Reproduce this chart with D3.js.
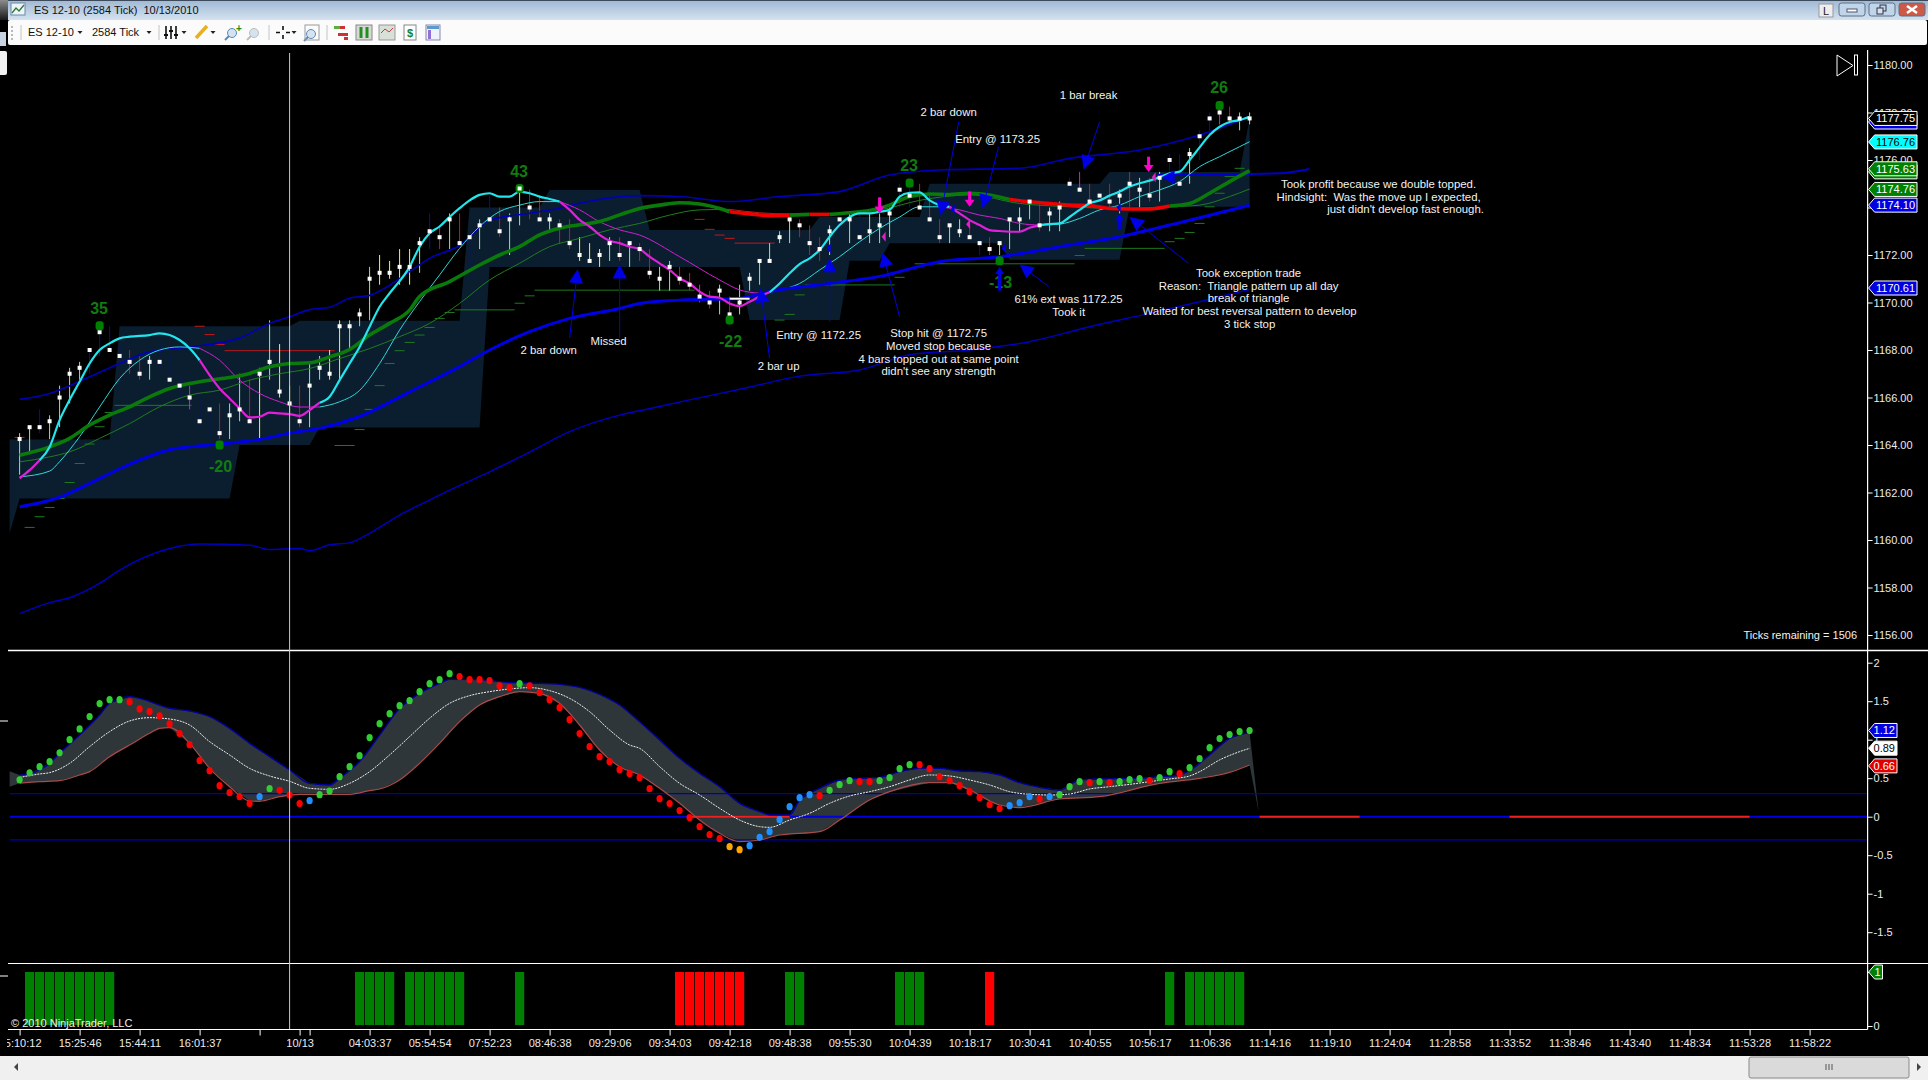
<!DOCTYPE html>
<html>
<head>
<meta charset="utf-8">
<title>ES 12-10 (2584 Tick)</title>
<script src="https://cdn.jsdelivr.net/npm/d3@7"></script>
<style>
html, body { margin: 0; padding: 0; background: #000; overflow: hidden; }
svg { display: block; font-family: "Liberation Sans", Arial, sans-serif; }
text { white-space: pre; }
</style>
</head>
<body>
<div id="chart"></div>
<script>
// bars, one entry per bar
var closes = [1164.25,1164.75,1164.75,1165,1166,1167,1167.25,1168,1168.75,1168,
  1167.75,1167.5,1167,1167.5,1167.5,1166.75,1166.5,1166,1165,1165.5,
  1164.5,1165.25,1165.5,1165,1167,1167.5,1166.25,1165.75,1165,1166.5,
  1167.25,1167,1169,1169,1169.5,1171,1171.25,1171.25,1171.5,1171.5,
  1172.5,1173,1172.75,1173.5,1172.5,1172.75,1173.25,1173.5,1173,1173.5,
  1174.75,1174,1173.5,1173.5,1173.25,1172.5,1172,1171.75,1172,1172.5,
  1172,1172.5,1172.25,1171.25,1171,1171.5,1171,1170.75,1170.25,1170,
  1170.5,1169.5,1170,1171,1171.75,1171.75,1172.75,1173.5,1173.25,1172.5,
  1172.25,1173,1173.5,1173.5,1172.75,1173,1173.25,1173.75,1174.75,1174.5,
  1174,1173.5,1172.75,1173.25,1173,1172.75,1172.5,1172.25,1172.5,1173.5,
  1173.5,1174.25,1173.25,1173.75,1174,1175,1174.75,1174.25,1174.5,1174.25,
  1174.5,1175,1174.75,1174.5,1175.25,1176,1175,1176.25,1177,1177.75,
  1178,1177.75,1177.75,1177.75];
var highs = [1164.5,1164.75,1165.5,1165.25,1166.5,1167.25,1167.5,1168,1169,1169,
  1168.25,1168,1167.75,1167.75,1168.25,1167.75,1167,1166.5,1166,1165.5,
  1165.75,1165.75,1167,1166.75,1167.25,1169.25,1168.25,1166.5,1166.5,1167.5,
  1167.75,1168,1169.25,1169.25,1169.75,1171.5,1172,1171.75,1172.25,1172.25,
  1172.75,1173.75,1173.25,1173.75,1173.75,1172.75,1173.5,1174.5,1174,1173.75,
  1174.75,1174.75,1174.5,1173.75,1173.5,1173.5,1172.75,1172.5,1172.25,1172.75,
  1172.75,1172.5,1172.5,1172.25,1171.5,1171.75,1171.5,1171.25,1170.75,1170.5,
  1170.75,1170.25,1170.75,1171.25,1171.75,1172.5,1173,1173.5,1173.5,1173.25,
  1172.75,1173.25,1173.5,1173.75,1173.75,1173.75,1173.75,1174,1175,1175,
  1175,1174.5,1173.5,1173.25,1173.5,1173.25,1172.75,1172.75,1172.5,1173.5,
  1174,1174.25,1174.25,1174,1174.25,1175.25,1175.5,1175,1174.5,1175,
  1174.75,1175.5,1175.25,1175.25,1175.5,1176.25,1176.25,1176.5,1177.25,1178,
  1178.25,1178.25,1178,1178];
var lows = [1162.75,1163.75,1164.5,1164.25,1164.75,1165.75,1166.75,1167,1167.75,1168,
  1167.25,1167,1166.75,1166.75,1167.25,1166.75,1165.75,1165.5,1164.75,1164.25,
  1164.25,1164.25,1165,1165,1164.25,1166.75,1166,1165.25,1164.75,1164.75,
  1166.75,1166.75,1166.75,1168,1169,1169.25,1170.75,1171,1170.75,1170.75,
  1171.25,1172.25,1172.25,1172.25,1172.5,1171.5,1172.25,1173.5,1172.75,1172,
  1173.25,1173.5,1173.5,1173,1172.5,1172.25,1171.75,1171.75,1171.5,1171.75,
  1171.75,1171.5,1171.75,1171,1170.5,1170.5,1170.75,1170.5,1170,1169.75,
  1169.5,1169.25,1169.5,1170.5,1170.75,1171.75,1172.5,1172.5,1172.75,1172,
  1171.75,1172,1172.75,1172.5,1172.5,1172.5,1172.5,1172.75,1174,1174,
  1174,1173.5,1172.5,1172.5,1172.75,1172.75,1172,1172,1172,1172.25,
  1173,1173.5,1173,1173,1173,1174,1174.75,1174,1173.5,1174,
  1173.75,1174,1174,1174.25,1174.25,1175.25,1175,1175,1176,1177,
  1177.5,1177.5,1177.25,1177.5];
var wickKinds = ("ggbggggbbb" + "brrgbbbmbb" + "rggrygyyrg" + "gyygggyyyy" + "gbrgrbgbrg" +
  "grrgrryyyg" + "rgrrggrrmr" + "grggggggrr" + "rgbgbgggbb" + "rrrggrbrgg" +
  "ggrggbmrbr" + "grgrgbbgbb" + "mrgg").split("");

// price indicators, [bar, price]
var lowerBandThick = [[0,1161.4],[4,1161.8],[7,1162.38],[10,1163],[15,1163.8],[20,1164.04],[24,1164.23],[27,1164.5],[30,1164.7],[34,1165.2],[39,1166.24],[44,1167.3],[47,1168],[51,1168.77],[55,1169.33],[60,1169.75],[62,1169.96],[66,1170.1],[72,1170.17],[75,1170.46],[81,1170.8],[86,1171.1],[92,1171.72],[98,1171.93],[104,1172.35],[110,1172.77],[115,1173.26],[123,1174.1]];
var upperEnvelope = [[0,1165.92],[3,1166.17],[7,1166.87],[10,1167.43],[13,1167.92],[17,1168.13],[22,1168.5],[25,1169.12],[27,1169.4],[29,1169.7],[31,1169.8],[33,1170.18],[35,1170.3],[39,1171.3],[41,1171.86],[44,1172.4],[47,1173.46],[51,1173.76],[54,1173.97],[56,1174.18],[62,1174.5],[66,1174.46],[71,1174.25],[76,1174.46],[82,1174.67],[87,1175.37],[92,1175.58],[100,1175.65],[105,1176.07],[112,1176.42],[118,1177.05],[123,1177.82]];
var lowerEnvelope = [[0,1156.9],[3,1157.36],[5,1157.57],[8,1158.17],[10,1158.73],[15,1159.64],[18,1159.83],[23,1159.78],[25,1159.6],[28,1159.64],[29,1159.55],[31,1159.8],[33,1159.88],[35,1160.28],[38,1161.05],[41,1161.68],[43,1162.1],[47,1162.87],[51,1163.7],[55,1164.56],[60,1165.26],[62,1165.44],[67,1165.9],[72.6,1166.4],[78,1166.9],[84,1167.16],[89,1167.8],[95,1168],[101,1168.35],[107,1168.98],[113,1169.54],[123,1170.55]];
var stubLine = [[113.8,1175.37],[126,1175.44],[129,1175.62]];
var fastLine = [[0,1162.6],[1,1162.94],[2,1163.36],[3,1163.92],[4,1165.05],[5,1165.9],[6,1166.66],[7,1167.43],[8,1168],[9,1168.28],[10,1168.49],[11,1168.56],[13,1168.63],[14,1168.7],[16,1168.42],[17,1168.07],[18,1167.57],[19,1166.94],[20,1166.38],[21,1165.96],[22,1165.54],[23,1165.16],[24,1165.19],[25,1165.36],[26,1165.33],[27,1165.3],[28,1165.23],[29,1165.47],[30,1165.78],[31,1166.03],[32,1166.73],[33,1167.43],[34,1168.13],[35,1168.98],[36,1169.82],[37,1170.39],[39,1171.5],[40,1172.35],[41,1172.92],[42,1173.2],[43,1173.6],[44,1173.97],[45,1174.3],[46,1174.53],[47,1174.6],[48,1174.46],[49,1174.46],[50,1174.67],[51,1174.6],[52,1174.46],[53,1174.36],[54,1174.25],[55,1173.9],[56,1173.48],[57,1173.2],[58,1172.85],[59,1172.6],[60,1172.5],[61,1172.35],[62,1172.25],[63,1171.93],[64,1171.65],[65,1171.37],[66,1171.02],[67,1170.8],[68,1170.46],[69,1170.25],[70,1170.2],[71,1169.96],[72,1169.85],[73,1170.03],[74,1170.25],[75,1170.43],[76,1170.8],[77,1171.23],[78,1171.62],[79,1171.86],[80,1172.21],[81,1172.77],[82,1173.26],[83,1173.6],[84,1173.75],[85,1173.75],[86,1173.82],[87,1173.9],[88,1174.46],[89,1174.62],[90,1174.64],[91,1174.3],[92,1174.1],[93,1174.03],[94,1173.75],[95,1173.47],[96,1173.26],[97,1173.05],[98,1173.01],[99,1172.98],[100,1172.98],[101,1173.15],[102,1173.26],[103,1173.3],[104,1173.33],[105,1173.6],[106,1173.9],[107,1174.18],[108,1174.3],[109,1174.5],[110,1174.67],[111,1174.88],[112,1175.02],[113,1175.13],[114,1175.27],[115,1175.44],[116,1175.51],[117,1176],[118,1176.53],[119,1177.05],[120,1177.4],[121,1177.6],[122,1177.68],[123,1177.82]];
var slowLine = [[0,1162.66],[3,1162.9],[4,1163.3],[6,1164.35],[8,1165.6],[10,1166.8],[12,1167.57],[14,1168],[16,1168.13],[18,1168.07],[20,1167.57],[22,1166.73],[24,1166.17],[26,1165.82],[28,1165.6],[30,1165.6],[32,1165.82],[34,1166.3],[36,1167.43],[38,1168.84],[40,1170.04],[42,1171.16],[44,1172.28],[46,1173.2],[48,1173.83],[50,1174.1],[52,1174.25],[54,1174.25],[56,1173.9],[58,1173.4],[60,1173.06],[62,1172.84],[66,1171.93],[70,1170.95],[72,1170.53],[74,1170.39],[76,1170.53],[78,1170.8],[80,1171.37],[82,1171.93],[84,1172.56],[86,1173.12],[88,1173.6],[90,1174.03],[92,1174.03],[94,1173.9],[96,1173.68],[98,1173.54],[100,1173.33],[102,1173.26],[104,1173.3],[106,1173.54],[108,1173.9],[110,1174.1],[112,1174.46],[114,1174.74],[116,1175.09],[118,1175.72],[120,1176.14],[122,1176.56],[123,1176.77]];
var trendThick = [[0,1163.57],[3,1163.92],[5,1164.28],[7,1164.84],[9,1165.26],[11,1165.61],[13,1166.03],[15,1166.38],[17,1166.59],[19,1166.73],[21,1166.84],[23,1167.01],[25,1167.29],[27,1167.43],[29,1167.46],[31,1167.71],[33,1168.02],[35,1168.63],[37,1169.12],[39,1169.68],[40,1170.25],[43,1170.88],[46,1171.58],[48,1172],[50,1172.35],[52,1172.85],[54,1173.13],[56,1173.27],[58,1173.41],[60,1173.69],[62,1173.96],[64,1174.1],[66,1174.2],[68,1174.15],[70,1173.96],[71,1173.82],[73,1173.73],[75,1173.66],[77,1173.68],[79,1173.71],[81,1173.71],[83,1173.78],[85,1173.87],[87,1174.1],[89,1174.46],[91,1174.57],[93,1174.55],[95,1174.6],[97,1174.53],[99,1174.34],[101,1174.24],[103,1174.17],[105,1174.1],[107,1174.08],[109,1173.96],[111,1173.94],[113,1173.94],[115,1174.06],[117,1174.17],[119,1174.6],[121,1175.09],[123,1175.55]];
var trendThin = [[0,1163.29],[3,1163.5],[5,1163.71],[8,1164.28],[11,1164.9],[14,1165.61],[17,1166.1],[20,1166.31],[23,1166.73],[26,1167],[29,1167.22],[32,1167.64],[35,1168.06],[38,1168.56],[41,1169.12],[44,1169.96],[47,1170.95],[50,1171.65],[53,1172.35],[56,1172.7],[59,1173.06],[62,1173.33],[65,1173.68],[68,1173.9],[71,1173.92],[74,1173.78],[77,1173.73],[80,1173.73],[86,1173.9],[90,1174.3],[95,1174.53],[100,1174.17],[105,1174.03],[110,1173.96],[115,1174.03],[118,1174.1],[121,1174.46],[123,1174.78]];

// zone shading, [bar, price]
var zoneTop = [[-1,1164.23],[9,1164.23],[10,1169],[27,1169],[28,1169.23],[44,1169.23],[45,1174],[52,1174],[53,1174.74],[62,1174.74],[63,1173.05],[79,1173.05],[80,1173.6],[90,1173.6],[91,1175],[108,1175],[109,1175.5],[122,1175.5],[123,1177.75]];
var zoneBottom = [[-1,1160.28],[0,1161.75],[21,1161.75],[22,1164],[29,1164],[30,1164.74],[46,1164.74],[47,1171.5],[72,1171.5],[73,1169.26],[82,1169.26],[83,1171.76],[86,1171.76],[87,1172.5],[98,1172.5],[99,1171.8],[110,1171.8],[111,1174.03],[123,1174.03]];

// short level dashes [from bar, to bar, price]
var greenDashes = [[0.5,1.5,1160.53],[1.5,2.5,1160.98],[2.5,3.5,1161.37],[3.5,4.5,1161.75],[4.5,5.5,1162.42],[5.5,6.5,1163.22],[6.5,7.5,1164.04],[7.5,8.5,1164.77],[8.5,9.5,1165.37],[9.5,17.2,1165.67],[31.5,33.5,1163.98],[33.5,34.5,1164.65],[34.5,35.5,1165.5],[35.5,36.5,1166.5],[36.5,37.5,1167.43],[37.5,38.5,1167.97],[38.5,39.5,1168.32],[39.5,40.5,1168.63],[40.5,41.5,1168.95],[41.5,42.5,1169.33],[42.5,43.5,1169.58],[43.5,49.5,1169.69],[49.5,50.5,1169.97],[50.5,51.5,1170.28],[51.5,67.5,1170.52],[75.5,76.5,1169.26],[76.5,77.5,1169.5],[77.5,78.5,1170.32],[78.5,87.5,1170.74],[87.5,88.5,1171.06],[89.5,105.5,1171.63],[105.5,106.5,1171.98],[106.5,114.5,1172.28],[114.5,115.5,1172.56],[115.5,116.5,1172.7],[116.5,117.5,1172.95],[117.5,118.5,1173.33],[118.5,119.5,1174.03],[119.5,120.5,1174.6],[120.5,121.5,1175.3],[121.5,122.5,1175.65]];
var redDashes = [[-0.5,0.5,1164.32],[17.5,18.5,1169],[18.5,19.5,1168.65],[19.5,20.5,1168.23],[20.5,31.5,1167.97],[67.5,68.5,1173.5],[68.5,69.5,1173.08],[69.5,70.5,1172.84],[70.5,71.5,1172.7],[71.5,75.5,1172.5]];
var whiteDashes = [[71,73,1170.16]];

// swing points [bar, price, label]
var swingHighs = [[8,1169.02,"35"],[50,1174.8,"43"],[89,1175.03,"23"],[120,1178.3,"26"]];
var swingLows = [[20,1164,"-20"],[71,1169.26,"-22"],[98,1171.76,"-13"]];

// drawn arrows [tip bar, tip price, tail bar, tail price]
var longArrows = [[55.8,1171.4,55,1168.5],[60,1171.6,60,1168.5],[74.1,1170.6,75,1167.65],[81,1171.86,81,1169.2],[86.3,1172.1,88,1169.4],[92.1,1173.68,93.9,1177.6],[96.3,1173.96,97.9,1176.56],[106.4,1175.6,108,1177.6],[100,1171.6,102.9,1170.67],[111,1173.6,116.9,1171.65]];
var stemBlue = [[98,1171.5,98,1170.5],[110,1173.75,110,1173.1]];
var stemMagenta = [[86,1173.75,86,1174.43],[95,1174.03,95,1174.67],[112.9,1175.5,112.9,1176.14]];
var leftMagenta = [[86.2,1172.77],[94.65,1173.3],[113.2,1175.27]];
var leftBlue = [[80.7,1172.28],[98.2,1172.28],[109.7,1174],[93.1,1173.94]];
var leftBlueBig = [[114.2,1175.27]];

// oscillator panel
var dotValues = [.48,.57,.65,.715,.83,1,1.14,1.3,1.47,1.52,
  1.52,1.49,1.4,1.365,1.31,1.205,1.08,.936,.728,.598,
  .403,.312,.26,.17,.26,.364,.343,.282,.17,.208,
  .286,.334,.52,.65,.793,1.027,1.208,1.338,1.442,1.507,
  1.624,1.728,1.78,1.858,1.82,1.78,1.78,1.767,1.7,1.676,
  1.728,1.7,1.611,1.52,1.416,1.26,1.08,.91,.78,.715,
  .611,.559,.507,.364,.234,.17,.079,-.012,-.129,-.233,
  -.285,-.389,-.428,-.376,-.268,-.194,-.038,.13,.247,.286,
  .273,.343,.416,.468,.455,.455,.468,.507,.624,.676,
  .676,.624,.52,.468,.403,.325,.247,.156,.105,.143,
  .182,.26,.23,.26,.286,.39,.455,.442,.455,.442,
  .455,.481,.494,.468,.507,.585,.559,.637,.754,.897,
  1.014,1.066,1.105,1.118];
var dotKinds = ("gggggggggg" + "grrrrrrrrr" + "rrrrbgrrrb" + "gggggggggg" + "ggggrrrrrr" +
  "grrrrrrrrr" + "rrrrrrrrrr" + "roobbbbbbb" + "rgggrrgggg" + "rrrrrrrrrb" +
  "bbrbgggrgr" + "gggrggrggg" + "gggg").split("");
var bandUpper = [[0,.54],[1,.56],[3,.693],[4,.823],[6,1.06],[8,1.32],[9,1.473],[11,1.559],[12,1.537],[15,1.408],[17,1.373],[19,1.3],[21,1.148],[23,.953],[25,.78],[27,.607],[29,.433],[31,.412],[32,.498],[34,.715],[36,1.06],[38,1.408],[40,1.602],[42,1.732],[43,1.784],[46,1.78],[49,1.741],[52,1.732],[54,1.719],[56,1.68],[58,1.589],[60,1.451],[62,1.234],[64,.996],[66,.758],[68,.563],[70,.39],[72,.174],[74,.066],[75,.022],[77,.022],[78,.217],[80,.369],[82,.477],[84,.498],[86,.511],[88,.585],[90,.628],[92,.628],[94,.594],[96,.585],[98,.542],[100,.442],[102,.381],[104,.347],[106,.477],[108,.49],[112,.498],[114,.52],[116,.542],[117,.598],[119,.802],[121,1.018],[123,1.092]];
var bandMiddle = [[0,.51],[2,.555],[3,.572],[5,.693],[7,.91],[9,1.105],[11,1.243],[13,1.286],[15,1.269],[17,1.191],[19,.975],[21,.802],[23,.628],[25,.529],[27,.46],[29,.369],[31,.356],[33,.433],[35,.585],[37,.802],[39,1.04],[41,1.278],[43,1.472],[45,1.572],[47,1.624],[49,1.659],[51,1.676],[53,1.637],[55,1.537],[57,1.364],[59,1.126],[61,.931],[62,.888],[64,.65],[66,.433],[68,.282],[70,.109],[72,-.043],[74,-.129],[75,-.138],[77,-.043],[79,.044],[81,.174],[83,.269],[85,.325],[87,.39],[89,.477],[91,.542],[93,.529],[95,.477],[97,.412],[99,.325],[101,.291],[103,.282],[105,.295],[107,.36],[109,.39],[111,.42],[113,.455],[115,.49],[117,.529],[118,.585],[120,.737],[122,.845],[123,.888]];
var bandLower = [[0,.434],[2,.455],[4,.468],[6,.542],[7,.585],[9,.78],[11,.931],[13,1.083],[14,1.148],[15,1.156],[17,.953],[19,.628],[21,.39],[23,.204],[24,.2],[26,.26],[28,.291],[31,.291],[33,.291],[35,.338],[36,.36],[38,.477],[40,.693],[42,.953],[44,1.234],[46,1.451],[48,1.559],[50,1.624],[52,1.602],[54,1.473],[56,1.191],[58,.866],[60,.65],[62,.542],[64,.369],[66,.174],[68,-.043],[70,-.216],[72,-.324],[74,-.303],[76,-.238],[80,-.194],[82,-.043],[85,.217],[87,.325],[91,.442],[93,.442],[95,.347],[98,.152],[100,.118],[104,.23],[108,.26],[114,.433],[118,.498],[121,.576],[123,.672]];
var bandFillStart = [-1,.59,.39];
var bandFillEnd = [123.9,.065];
var oscLevels = [.3,-.3];
var zeroRedRuns = [[67,77],[124,134],[149,173]];

// signal panel, bar runs
var greenRuns = [[1,9],[34,37],[39,44],[50,50],[77,78],[88,90],[115,115],[117,122]];
var redRuns = [[66,72],[97,97]];

// axes
var priceTicks = d3.range(1156, 1181, 2);
var oscTicks = [-1.5,-1,-0.5,0,0.5,1,1.5,2];
var timeTickBars = [0,6,12,18,24,28,29,35,41,47,53,59,65,71,77,83,89,95,101,107,113,119,125,131,137,143,149,155,161,167,173,179];
var timeTickLabels = ["15:10:12","15:25:46","15:44:11","16:01:37","","10/13","","04:03:37","05:54:54","07:52:23","08:46:38","09:29:06","09:34:03","09:42:18","09:48:38","09:55:30","10:04:39","10:18:17","10:30:41","10:40:55","10:56:17","11:06:36","11:14:16","11:19:10","11:24:04","11:28:58","11:33:52","11:38:46","11:43:40","11:48:34","11:53:28","11:58:22"];

// value tags at the axis [value, text, fill, text colour]
var priceTagsBack = [[1177.6,"","#0000e0","#fff"],[1175.5,"","#008000","#fff"]];
var priceTags = [[1177.75,"1177.75","#000","#fff"],[1176.76,"1176.76","#00ffff","#000"],[1175.63,"1175.63","#008000","#fff"],[1174.76,"1174.76","#008000","#fff"],[1174.10,"1174.10","#0000e0","#fff"],[1170.61,"1170.61","#0000e0","#fff"]];
var oscTags = [[1.12,"1.12","#0000e0","#fff"],[0.89,"0.89","#fff","#000"],[0.66,"0.66","#e00000","#fff"]];

// notes [text, bar, price]
var notes = [
  ["2 bar down",52.9,1168],["Missed",58.9,1168.36],
  ["Entry @ 1172.25",79.9,1168.62],["2 bar up",75.9,1167.32],
  ["2 bar down",92.9,1178.03],["Entry @ 1173.25",97.8,1176.88],["1 bar break",106.9,1178.73],
  ["Stop hit @ 1172.75",91.9,1168.72],["Moved stop because",91.9,1168.17],["4 bars topped out at same point",91.9,1167.62],["didn't see any strength",91.9,1167.12],
  ["61% ext was 1172.25",104.9,1170.15],["Took it",104.9,1169.6],
  ["Took exception trade",122.9,1171.25],["Reason:  Triangle pattern up all day",122.9,1170.7],["break of triangle",122.9,1170.2],["Waited for best reversal pattern to develop",123,1169.65],["3 tick stop",123,1169.1],
  ["Took profit because we double topped.",135.9,1175],["Hindsight:  Was the move up I expected,",135.9,1174.45],["just didn't develop fast enough.",138.6,1173.95]
];
var ticksRemaining = "Ticks remaining = 1506";
var copyrightNote = "\u00a9 2010 NinjaTrader, LLC";
var titleText = "ES 12-10 (2584 Tick)  10/13/2010";
var instrumentText = "ES 12-10";
var periodText = "2584 Tick";
var cursorBar = 27;

var W = 1928, H = 1080;
var axisX = 1867.6;
var wickColors = {g: "#90ee90", y: "#ffff00", r: "#e01010", b: "#0000f0", m: "#ff00ff"};
var dotColors = {g: "#32cd32", r: "#ff0000", b: "#1e90ff", o: "#ffa500"};

var svg = d3.select("#chart").append("svg").attr("width", W).attr("height", H);

var x = d3.scaleLinear().domain([0, 179]).range([19.6, 1809.6]);
var yPrice = d3.scaleLinear().domain([1156, 1180]).range([635, 65]);
var yOsc = d3.scaleLinear().domain([-1.5, 2]).range([932.2, 662.7]);
var ySig = d3.scaleLinear().domain([0, 1]).range([1026, 972]);

var priceLine = function (curve) {
    return d3.line().x(d => x(d[0])).y(d => yPrice(d[1])).curve(curve || d3.curveMonotoneX);
};
var oscLine = d3.line().x(d => x(d[0])).y(d => yOsc(d[1])).curve(d3.curveMonotoneX);

svg.append("defs").append("clipPath").attr("id", "plotClip")
    .append("rect").attr("x", 8).attr("y", 45).attr("width", W - 8).attr("height", H - 45);

var plot = svg.append("g").attr("clip-path", "url(#plotClip)");

// zones
var zoneRing = zoneTop.concat(zoneBottom.slice().reverse());
plot.append("path")
    .attr("d", priceLine(d3.curveLinear)(zoneRing) + "Z")
    .attr("fill", "#0a1e30");

// level dashes
function drawDashes(list, color, width) {
    plot.selectAll(null).data(list).enter().append("line")
        .attr("x1", d => x(d[0])).attr("x2", d => x(d[1]))
        .attr("y1", d => yPrice(d[2])).attr("y2", d => yPrice(d[2]))
        .attr("stroke", color).attr("stroke-width", width);
}
drawDashes(greenDashes, "#1d7a1d", 1);
drawDashes(redDashes, "#c01818", 1);

// wicks
plot.selectAll(null).data(closes).enter().append("line")
    .attr("x1", (d, i) => x(i)).attr("x2", (d, i) => x(i))
    .attr("y1", (d, i) => yPrice(highs[i])).attr("y2", (d, i) => yPrice(lows[i]))
    .attr("stroke", (d, i) => wickColors[wickKinds[i]]).attr("stroke-width", 1);

// colour runs of one curve
function drawRuns(knots, runs, width) {
    runs.forEach(function (r) {
        plot.append("path")
            .attr("d", priceLine()(knots.filter(k => k[0] >= r[0] && k[0] <= r[1])))
            .attr("fill", "none").attr("stroke", r[2]).attr("stroke-width", width);
    });
}

function drawCurve(knots, color, width) {
    plot.append("path").attr("d", priceLine()(knots))
        .attr("fill", "none").attr("stroke", color).attr("stroke-width", width);
}

drawCurve(lowerEnvelope, "#0000c0", 1.4);
drawCurve(upperEnvelope, "#0000b8", 1.6);
drawCurve(stubLine, "#0000c8", 2);
drawRuns(trendThin, [[0,71,"#1f7d1f"],[71,80,"#b02020"],[80,123,"#1f7d1f"]], 1);
drawRuns(slowLine, [[0,18,"#30d8d8"],[18,30,"#d020d0"],[30,54,"#30d8d8"],[54,74,"#d020d0"],[74,92,"#30d8d8"],[92,102,"#d020d0"],[102,123,"#30d8d8"]], 1);
drawCurve(lowerBandThick, "#0000e6", 3);
drawRuns(trendThick, [[0,71,"#0a7a0a"],[71,77,"#f00000"],[77,79,"#0a7a0a"],[79,81,"#f00000"],[81,99,"#0a7a0a"],[99,115,"#f00000"],[115,123,"#0a7a0a"]], 3.6);
drawRuns(fastLine, [[0,2,"#e020d8"],[2,18,"#22e6ec"],[18,30,"#e020d8"],[30,54,"#22e6ec"],[54,75,"#e020d8"],[75,93,"#22e6ec"],[93,102,"#e020d8"],[102,123,"#22e6ec"]], 2.2);
drawDashes(whiteDashes, "#ffffff", 2);

// closes
plot.selectAll(null).data(closes).enter().append("rect")
    .attr("x", (d, i) => x(i) - 2).attr("y", d => yPrice(d) - 2)
    .attr("width", 4).attr("height", 4).attr("fill", "#fff");

// swing markers
var swings = swingHighs.concat(swingLows);
plot.selectAll(null).data(swings).enter().append("rect")
    .attr("x", d => x(d[0]) - 4).attr("y", d => yPrice(d[1]) - 4.5)
    .attr("width", 8).attr("height", 9).attr("rx", 3)
    .attr("fill", "#008000");
plot.selectAll(null).data(swingHighs.filter(d => d[2] == "43")).enter().append("rect")
    .attr("x", d => x(d[0]) - 2).attr("y", d => yPrice(d[1]) - 2)
    .attr("width", 4).attr("height", 4).attr("fill", "#fff");
plot.selectAll(null).data(swingHighs).enter().append("text")
    .attr("x", d => x(d[0]) - 0.5).attr("y", d => yPrice(d[1]) - 12)
    .attr("text-anchor", "middle").attr("font-size", 16).attr("font-weight", "bold")
    .attr("fill", "#107c10").text(d => d[2]);
plot.selectAll(null).data(swingLows).enter().append("text")
    .attr("x", d => x(d[0]) + 1).attr("y", d => yPrice(d[1]) + 27)
    .attr("text-anchor", "middle").attr("font-size", 16).attr("font-weight", "bold")
    .attr("fill", "#107c10").text(d => d[2]);

// arrows
function drawArrow(d, color, headLen, headHalf, stemWidth) {
    var tx = x(d[0]), ty = yPrice(d[1]), bx = x(d[2]), by = yPrice(d[3]);
    var len = Math.sqrt((bx - tx) * (bx - tx) + (by - ty) * (by - ty));
    var ux = (bx - tx) / len, uy = (by - ty) / len;
    plot.append("line")
        .attr("x1", tx + ux * headLen * 0.8).attr("y1", ty + uy * headLen * 0.8)
        .attr("x2", bx).attr("y2", by)
        .attr("stroke", color).attr("stroke-width", stemWidth);
    var cx = tx + ux * headLen, cy = ty + uy * headLen;
    plot.append("polygon")
        .attr("points", [[tx, ty], [cx - uy * headHalf, cy + ux * headHalf], [cx + uy * headHalf, cy - ux * headHalf]].join(" "))
        .attr("fill", color);
}
longArrows.forEach(d => drawArrow(d, "#0000e6", 14, 7, 1));
stemBlue.forEach(d => drawArrow(d, "#0000e6", 7, 4.5, 3));
stemMagenta.forEach(d => drawArrow(d, "#ff00d0", 7, 5, 3));

function drawLeftTriangles(list, color, size, half) {
    plot.selectAll(null).data(list).enter().append("polygon")
        .attr("points", d => {
            var px = x(d[0]), py = yPrice(d[1]);
            return [[px, py], [px + size, py - half], [px + size, py + half]].join(" ");
        })
        .attr("fill", color);
}
drawLeftTriangles(leftMagenta, "#e020c0", 4, 5);
drawLeftTriangles(leftBlue, "#0000e6", 4, 5);
drawLeftTriangles(leftBlueBig, "#0000e6", 13, 7);

// notes
plot.selectAll(null).data(notes).enter().append("text")
    .attr("x", d => x(d[1])).attr("y", d => yPrice(d[2]) + 4)
    .attr("text-anchor", "middle").attr("font-size", 11.4).attr("fill", "#f2f2f2")
    .text(d => d[0]);
svg.append("text").attr("x", 1857).attr("y", 639).attr("text-anchor", "end")
    .attr("font-size", 11).attr("fill", "#f2f2f2").text(ticksRemaining);

// jump to end glyph
svg.append("polygon").attr("points", "1837,55 1853,65.5 1837,76").attr("fill", "none").attr("stroke", "#fff");
svg.append("rect").attr("x", 1854.5).attr("y", 55).attr("width", 3).attr("height", 20).attr("fill", "none").attr("stroke", "#fff");

// oscillator band
var bandPts = [[bandFillStart[0], bandFillStart[1]]].concat(bandUpper, [bandFillEnd], bandLower.slice().reverse(), [[bandFillStart[0], bandFillStart[2]]]);
plot.append("path")
    .attr("d", d3.line().x(d => x(d[0])).y(d => yOsc(d[1]))(bandPts) + "Z")
    .attr("fill", "#2e363a");

plot.selectAll(null).data(oscLevels).enter().append("line")
    .attr("x1", x(-1)).attr("x2", axisX)
    .attr("y1", d => yOsc(d)).attr("y2", d => yOsc(d))
    .attr("stroke", "#0000b0").attr("stroke-width", 1.2);
plot.append("line")
    .attr("x1", x(-1)).attr("x2", axisX)
    .attr("y1", yOsc(0)).attr("y2", yOsc(0))
    .attr("stroke", "#0000e0").attr("stroke-width", 2);
plot.selectAll(null).data(zeroRedRuns).enter().append("line")
    .attr("x1", d => x(d[0])).attr("x2", d => x(d[1]))
    .attr("y1", yOsc(0)).attr("y2", yOsc(0))
    .attr("stroke", "#f02020").attr("stroke-width", 2);

plot.append("path").attr("d", oscLine(bandUpper)).attr("fill", "none").attr("stroke", "#0000a0").attr("stroke-width", 1.4);
plot.append("path").attr("d", oscLine(bandLower)).attr("fill", "none").attr("stroke", "#a84a4a").attr("stroke-width", 1.2);
plot.append("path").attr("d", oscLine(bandMiddle)).attr("fill", "none").attr("stroke", "#f0f0f0")
    .attr("stroke-width", 1).attr("stroke-dasharray", "2,1");

plot.selectAll(null).data(dotValues).enter().append("ellipse")
    .attr("cx", (d, i) => x(i)).attr("cy", d => yOsc(d))
    .attr("rx", 3.1).attr("ry", 3.6)
    .attr("fill", (d, i) => dotColors[dotKinds[i]]);

// signal bars
function runBars(runs) {
    var out = [];
    runs.forEach(r => d3.range(r[0], r[1] + 1).forEach(b => out.push(b)));
    return out;
}
function drawSignal(runs, color) {
    plot.selectAll(null).data(runBars(runs)).enter().append("rect")
        .attr("x", d => x(d) - 4.6).attr("width", 9.2)
        .attr("y", ySig(1)).attr("height", ySig(0) - ySig(1) - 1)
        .attr("fill", color);
}
drawSignal(greenRuns, "#008000");
drawSignal(redRuns, "#ff0000");

svg.append("text").attr("x", 11).attr("y", 1027).attr("font-size", 11)
    .attr("fill", "#f0f0f0").text(copyrightNote);

// panel frames
[[8, W, 650.5, 1.4], [8, W, 963.5, 1], [8, axisX, 1029.5, 1]].forEach(function (l) {
    svg.append("line").attr("x1", l[0]).attr("x2", l[1]).attr("y1", l[2]).attr("y2", l[2])
        .attr("stroke", "#fff").attr("stroke-width", l[3]);
});
[[0, 8, 721], [0, 8, 976]].forEach(function (l) {
    svg.append("line").attr("x1", l[0]).attr("x2", l[1]).attr("y1", l[2]).attr("y2", l[2]).attr("stroke", "#fff");
});
svg.append("line").attr("x1", x(cursorBar)).attr("x2", x(cursorBar)).attr("y1", 53).attr("y2", 1029)
    .attr("stroke", "#c8c8c8").attr("stroke-width", 1);
svg.append("line").attr("x1", axisX).attr("x2", axisX).attr("y1", 50).attr("y2", 1029.5)
    .attr("stroke", "#fff").attr("stroke-width", 1.2);

// axes
function styleAxis(g) {
    g.select(".domain").remove();
    g.selectAll("line").attr("stroke", "#fff");
    g.selectAll("text").attr("fill", "#ececec").attr("font-size", 11)
        .attr("font-family", '"Liberation Sans", Arial, sans-serif');
}
svg.append("g").attr("transform", "translate(" + axisX + ",0)")
    .call(d3.axisRight(yPrice).tickValues(priceTicks).tickFormat(d3.format(".2f")).tickSize(5).tickPadding(1))
    .call(styleAxis);
svg.append("g").attr("transform", "translate(" + axisX + ",0)")
    .call(d3.axisRight(yOsc).tickValues(oscTicks).tickFormat(d => String(d)).tickSize(5).tickPadding(1))
    .call(styleAxis);
svg.append("g").attr("transform", "translate(" + axisX + ",0)")
    .call(d3.axisRight(ySig).tickValues([0, 1]).tickFormat(d => d == 0 ? "0" : "").tickSize(5).tickPadding(1))
    .call(styleAxis);
svg.append("g").attr("transform", "translate(0,1029.5)").attr("clip-path", "url(#timeClip)")
    .call(d3.axisBottom(x).tickValues(timeTickBars)
        .tickFormat(d => timeTickLabels[timeTickBars.indexOf(d)]).tickSize(6).tickPadding(4))
    .call(styleAxis);
svg.select("defs").append("clipPath").attr("id", "timeClip")
    .append("rect").attr("x", 7).attr("y", -2).attr("width", W).attr("height", 40);

// value tags
function tagPath(yv, x0, x1) {
    return "M" + x0 + "," + yv + "L" + (x0 + 6) + "," + (yv - 7) + "L" + x1 + "," + (yv - 7) +
        "L" + x1 + "," + (yv + 7) + "L" + (x0 + 6) + "," + (yv + 7) + "Z";
}
function drawTags(list, scale, x1) {
    list.forEach(function (t) {
        var yv = scale(t[0]);
        svg.append("path").attr("d", tagPath(yv, axisX + 1, x1))
            .attr("fill", t[2]).attr("stroke", "#fff").attr("stroke-width", 1);
        if (t[1]) {
            svg.append("text").attr("x", x1 - 2).attr("y", yv + 4).attr("text-anchor", "end")
                .attr("font-size", 11).attr("fill", t[3]).text(t[1]);
        }
    });
}
drawTags(priceTagsBack, yPrice, 1917);
drawTags(priceTags, yPrice, 1917);
drawTags(oscTags, yOsc, 1897);
drawTags([[1, "1", "#008000", "#fff"]], ySig, 1882.5);

// window title and toolbar
var grad = svg.select("defs").append("linearGradient").attr("id", "titleGrad").attr("x1", 0).attr("x2", 0).attr("y1", 0).attr("y2", 1);
grad.append("stop").attr("offset", "0%").attr("stop-color", "#9fb8d4");
grad.append("stop").attr("offset", "100%").attr("stop-color", "#d4e2f0");
var sideGrad = svg.select("defs").append("linearGradient").attr("id", "sideGrad").attr("x1", 0).attr("x2", 0).attr("y1", 0).attr("y2", 1);
sideGrad.append("stop").attr("offset", "0%").attr("stop-color", "#8c8c8c");
sideGrad.append("stop").attr("offset", "100%").attr("stop-color", "#1a1a1a");

var ui = svg.append("g");
ui.append("rect").attr("width", W).attr("height", 20).attr("fill", "url(#titleGrad)");
ui.append("rect").attr("width", W).attr("height", 1).attr("fill", "#3c4a5c");
ui.append("rect").attr("x", 8).attr("y", 20).attr("width", 1919).attr("height", 25).attr("rx", 2).attr("fill", "#fbfbfb");
ui.append("rect").attr("width", 8).attr("height", 20).attr("fill", "url(#sideGrad)");
ui.append("rect").attr("y", 32).attr("width", 6).attr("height", 14).attr("fill", "#c8d4e2");
ui.append("rect").attr("x", -3).attr("y", 51).attr("width", 10).attr("height", 24).attr("rx", 2).attr("fill", "#f2f2f2");

ui.append("text").attr("x", 34).attr("y", 14).attr("font-size", 11).attr("fill", "#111").text(titleText);
ui.append("text").attr("x", 28).attr("y", 36).attr("font-size", 11).attr("fill", "#111").text(instrumentText);
ui.append("text").attr("x", 92).attr("y", 36).attr("font-size", 11).attr("fill", "#111").text(periodText);

// small icons
ui.append("rect").attr("x", 11).attr("y", 3).attr("width", 14).attr("height", 12).attr("fill", "#eef3f8").attr("stroke", "#6a88a8");
ui.append("path").attr("d", "M12,13L16,8L19,11L24,5").attr("fill", "none").attr("stroke", "#2a7a3a").attr("stroke-width", 1.3);
d3.range(0, 4).forEach(k => ui.append("rect").attr("x", 11).attr("y", 26 + k * 4).attr("width", 2).attr("height", 2).attr("fill", "#b8b8b8"));
[21, 159, 269, 327].forEach(p => ui.append("line").attr("x1", p).attr("x2", p).attr("y1", 25).attr("y2", 40).attr("stroke", "#c4c4c4"));
[80, 149, 184, 213, 294].forEach(p => ui.append("path").attr("d", "M" + (p - 2.5) + ",31L" + (p + 2.5) + ",31L" + p + ",34Z").attr("fill", "#222"));
[166, 171, 176].forEach(p => {
    ui.append("line").attr("x1", p).attr("x2", p).attr("y1", 26).attr("y2", 39).attr("stroke", "#111").attr("stroke-width", 1.6);
    ui.append("rect").attr("x", p - 2).attr("y", p == 171 ? 30 : 34).attr("width", 4).attr("height", 2).attr("fill", "#111");
});
ui.append("line").attr("x1", 196).attr("y1", 38).attr("x2", 207).attr("y2", 26).attr("stroke", "#e8b020").attr("stroke-width", 3.5);
[[232, 33, "#5a8ab8"], [254, 33, "#bcbcbc"], [311, 34, "#5a8ab8"]].forEach(m => {
    ui.append("circle").attr("cx", m[0]).attr("cy", m[1]).attr("r", 4.5).attr("fill", "#d5e3f0").attr("stroke", m[2]);
    ui.append("line").attr("x1", m[0] - 3).attr("y1", m[1] + 3).attr("x2", m[0] - 7).attr("y2", m[1] + 7).attr("stroke", m[2]).attr("stroke-width", 2);
});
ui.append("text").attr("x", 236).attr("y", 32).attr("font-size", 10).attr("font-weight", "bold").attr("fill", "#189018").text("+");
ui.append("path").attr("d", "M283,26V30M283,35V39M276,32.5H280M286,32.5H290").attr("stroke", "#111").attr("stroke-width", 1.6).attr("fill", "none");
ui.append("rect").attr("x", 305).attr("y", 25).attr("width", 14).attr("height", 15).attr("fill", "none").attr("stroke", "#9a9a9a");
ui.append("path").attr("d", "M334,26H345V29H334ZM338,33H348V36H338ZM344,37H348V40H344Z").attr("fill", "#d03030");
ui.append("rect").attr("x", 334).attr("y", 26).attr("width", 6).attr("height", 3).attr("fill", "#58b040");
ui.append("rect").attr("x", 356).attr("y", 25).attr("width", 16).attr("height", 15).attr("fill", "#d8d8d8").attr("stroke", "#888");
ui.append("path").attr("d", "M361,27V38M367,27V38").attr("stroke", "#209020").attr("stroke-width", 3);
ui.append("rect").attr("x", 379).attr("y", 25).attr("width", 16).attr("height", 15).attr("fill", "#d8e0d8").attr("stroke", "#999");
ui.append("path").attr("d", "M381,33L385,29L389,32L393,28").attr("stroke", "#c04040").attr("fill", "none");
ui.append("rect").attr("x", 404).attr("y", 25).attr("width", 12).attr("height", 15).attr("fill", "#fff").attr("stroke", "#888");
ui.append("text").attr("x", 410).attr("y", 37).attr("text-anchor", "middle").attr("font-size", 11).attr("font-weight", "bold").attr("fill", "#108030").text("$");
ui.append("rect").attr("x", 426).attr("y", 25).attr("width", 14).attr("height", 15).attr("fill", "#eef2fa").attr("stroke", "#8888a8");
ui.append("rect").attr("x", 427).attr("y", 26).attr("width", 12).attr("height", 3).attr("fill", "#5a9ad0");
ui.append("rect").attr("x", 428).attr("y", 30).attr("width", 3).attr("height", 9).attr("fill", "#9070d8");

// window buttons
ui.append("rect").attr("x", 1819).attr("y", 4).attr("width", 14).attr("height", 13).attr("fill", "#eee").attr("stroke", "#999");
ui.append("text").attr("x", 1826).attr("y", 15).attr("text-anchor", "middle").attr("font-size", 11).attr("fill", "#222").text("L");
[[1839, "#c0d4ea"], [1869, "#c0d4ea"], [1899, "#cc5a48"]].forEach(b => {
    ui.append("rect").attr("x", b[0]).attr("y", 3).attr("width", 26).attr("height", 13).attr("rx", 2.5).attr("fill", b[1]).attr("stroke", "#5a6e84");
});
ui.append("rect").attr("x", 1847).attr("y", 9).attr("width", 10).attr("height", 3).attr("fill", "#fff").attr("stroke", "#556");
ui.append("rect").attr("x", 1880).attr("y", 5).attr("width", 6).attr("height", 6).attr("fill", "none").attr("stroke", "#334");
ui.append("rect").attr("x", 1877).attr("y", 8).attr("width", 6).attr("height", 6).attr("fill", "#d5e1ee").attr("stroke", "#334");
ui.append("path").attr("d", "M1907,6L1917,13M1917,6L1907,13").attr("stroke", "#fff").attr("stroke-width", 2.6);

// scroll bar
ui.append("rect").attr("y", 1056).attr("width", W).attr("height", 24).attr("fill", "#f0f0f0");
ui.append("rect").attr("x", 1749).attr("y", 1057).attr("width", 160).attr("height", 21).attr("rx", 2).attr("fill", "#dadada").attr("stroke", "#8a8a8a");
[1826, 1829, 1832].forEach(p => ui.append("line").attr("x1", p).attr("x2", p).attr("y1", 1064).attr("y2", 1070).attr("stroke", "#555"));
ui.append("path").attr("d", "M1917,1063L1921,1067L1917,1071Z").attr("fill", "#444");
ui.append("path").attr("d", "M18,1063L14,1067L18,1071Z").attr("fill", "#444");
</script>
</body>
</html>
